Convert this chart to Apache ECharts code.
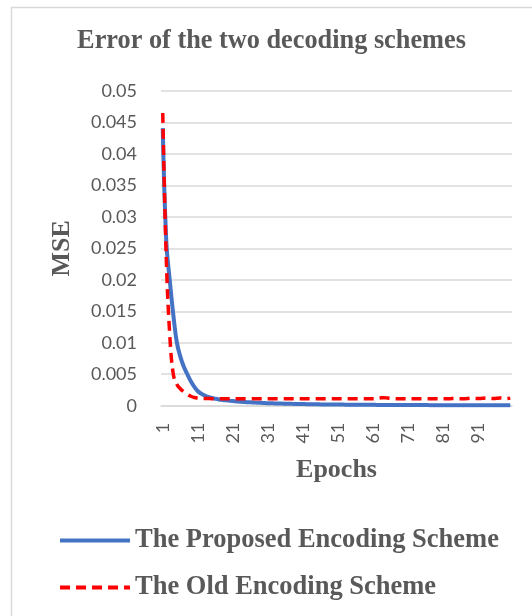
<!DOCTYPE html>
<html>
<head>
<meta charset="utf-8">
<script src="https://cdn.jsdelivr.net/npm/echarts@6/dist/echarts.min.js"></script>
<style>
  html, body { margin: 0; padding: 0; background: #ffffff; }
  #chart { width: 532px; height: 616px; }
</style>
</head>
<body>
<div id="chart"></div>
<script>
// Epoch numbers shown on the category axis (1 .. 100)
const epochs = Array.from({ length: 100 }, (_, i) => String(i + 1));

// Y-axis range and step of the MSE scale
const yMin = 0;
const yMax = 0.05;
const yStep = 0.005;

const seriesNames = ['The Proposed Encoding Scheme', 'The Old Encoding Scheme'];

// MSE per epoch, proposed encoding scheme
const proposedMSE = [
  0.0441, 0.0262, 0.0199, 0.0145, 0.0101, 0.0078, 0.0062, 0.0050, 0.0039, 0.0030,
  0.0023, 0.0019, 0.0016, 0.0014, 0.00122, 0.00110, 0.00100, 0.00092, 0.00085, 0.00079,
  0.00073, 0.00068, 0.00064, 0.00060, 0.00056, 0.00053, 0.00050, 0.00047, 0.00045, 0.00042,
  0.00040, 0.00038, 0.00036, 0.00035, 0.00033, 0.00032, 0.00030, 0.00029, 0.00028, 0.00027,
  0.00026, 0.00025, 0.00024, 0.00023, 0.00022, 0.00021, 0.00021, 0.00020, 0.00019, 0.00019,
  0.00018, 0.00018, 0.00017, 0.00017, 0.00016, 0.00016, 0.00015, 0.00015, 0.00014, 0.00014,
  0.00014, 0.00013, 0.00013, 0.00013, 0.00012, 0.00012, 0.00012, 0.00011, 0.00011, 0.00011,
  0.00011, 0.00010, 0.00010, 0.00010, 0.00010, 0.00010, 0.00009, 0.00009, 0.00009, 0.00009,
  0.00009, 0.00008, 0.00008, 0.00008, 0.00008, 0.00008, 0.00008, 0.00007, 0.00007, 0.00007,
  0.00007, 0.00007, 0.00007, 0.00007, 0.00006, 0.00006, 0.00006, 0.00006, 0.00006, 0.00006
];

// MSE per epoch, old encoding scheme
const oldMSE = [
  0.0465, 0.0235, 0.0112, 0.0050, 0.0034, 0.0027, 0.0022, 0.0018, 0.0015, 0.0013,
  0.00122, 0.00118, 0.00115, 0.00113, 0.00112, 0.00112, 0.00111, 0.00111, 0.00111, 0.00110,
  0.00110, 0.00110, 0.00111, 0.00110, 0.00110, 0.00110, 0.00111, 0.00110, 0.00110, 0.00110,
  0.00110, 0.00111, 0.00110, 0.00110, 0.00110, 0.00110, 0.00111, 0.00110, 0.00110, 0.00110,
  0.00110, 0.00110, 0.00111, 0.00110, 0.00110, 0.00110, 0.00110, 0.00111, 0.00110, 0.00110,
  0.00110, 0.00111, 0.00110, 0.00110, 0.00110, 0.00110, 0.00111, 0.00110, 0.00110, 0.00111,
  0.00112, 0.00116, 0.00124, 0.00128, 0.00122, 0.00114, 0.00111, 0.00110, 0.00110, 0.00110,
  0.00111, 0.00110, 0.00110, 0.00110, 0.00111, 0.00110, 0.00110, 0.00110, 0.00111, 0.00110,
  0.00110, 0.00111, 0.00112, 0.00113, 0.00112, 0.00111, 0.00112, 0.00115, 0.00119, 0.00116,
  0.00113, 0.00117, 0.00122, 0.00118, 0.00113, 0.00117, 0.00123, 0.00119, 0.00114, 0.00120
];

const textGray = '#595959';
const gridGray = '#d9d9d9';
const blue = '#4472C4';
const red = '#FF0000';
const serif = '"Liberation Serif", "Times New Roman", serif';
const sans = 'Lato, "Open Sans", sans-serif';

const chart = echarts.init(document.getElementById('chart'), null, { renderer: 'canvas' });

chart.setOption({
  animation: false,
  backgroundColor: '#ffffff',
  grid: { left: 161, right: 20, top: 91, bottom: 210.3, containLabel: false },
  graphic: [
    {
      type: 'rect', silent: true, z: -1,
      shape: { x: 11.5, y: 7.5, width: 700, height: 700 },
      style: { fill: 'none', stroke: gridGray, lineWidth: 1.5 }
    },
    {
      type: 'text', x: 271.5, y: 41,
      style: { text: 'Error of the two decoding schemes', font: 'bold 26.3px ' + serif,
               fill: textGray, textAlign: 'center', textVerticalAlign: 'middle' }
    },
    {
      type: 'text', x: 336.5, y: 470,
      style: { text: 'Epochs', font: 'bold 26px ' + serif,
               fill: textGray, textAlign: 'center', textVerticalAlign: 'middle' }
    },
    {
      type: 'text', x: 62.5, y: 248.3, rotation: Math.PI / 2,
      style: { text: 'MSE', font: 'bold 26px ' + serif,
               fill: textGray, textAlign: 'center', textVerticalAlign: 'middle' }
    }
  ],
  legend: {
    orient: 'vertical',
    left: 53,
    top: 522,
    itemWidth: 70,
    itemHeight: 14,
    itemGap: 20,
    // hide the marker symbol, keep only the line sample
    itemStyle: { opacity: 0 },
    data: [
      { name: seriesNames[0], lineStyle: { color: blue, width: 4, type: 'solid' } },
      { name: seriesNames[1], lineStyle: { color: red, width: 4, type: [10, 6] } }
    ],
    textStyle: { fontFamily: serif, fontWeight: 'bold', fontSize: 26.5, color: textGray }
  },
  xAxis: {
    type: 'category',
    data: epochs,
    boundaryGap: true,
    axisLine: { lineStyle: { color: gridGray, width: 1.5 } },
    axisTick: { show: false },
    axisLabel: {
      interval: (idx) => idx % 10 === 0,
      rotate: 90,
      margin: 17,
      fontFamily: sans,
      fontSize: 18,
      color: textGray
    },
    splitLine: { show: false }
  },
  yAxis: {
    type: 'value',
    min: yMin,
    max: yMax,
    interval: yStep,
    axisLine: { show: false },
    axisTick: { show: false },
    axisLabel: {
      margin: 24,
      fontFamily: sans,
      fontSize: 18,
      color: textGray,
      formatter: (v) => String(+v.toFixed(3))
    },
    splitLine: { lineStyle: { color: gridGray, width: 1.5 } }
  },
  series: [
    {
      name: seriesNames[0],
      type: 'line',
      data: proposedMSE,
      symbol: 'none',
      smooth: 0.4,
      lineStyle: { color: blue, width: 4 },
      itemStyle: { color: blue },
      z: 2
    },
    {
      name: seriesNames[1],
      type: 'line',
      data: oldMSE,
      symbol: 'none',
      smooth: 0.4,
      lineStyle: { color: red, width: 3.5, type: [10, 6] },
      itemStyle: { color: red },
      z: 3
    }
  ]
});
</script>
</body>
</html>
